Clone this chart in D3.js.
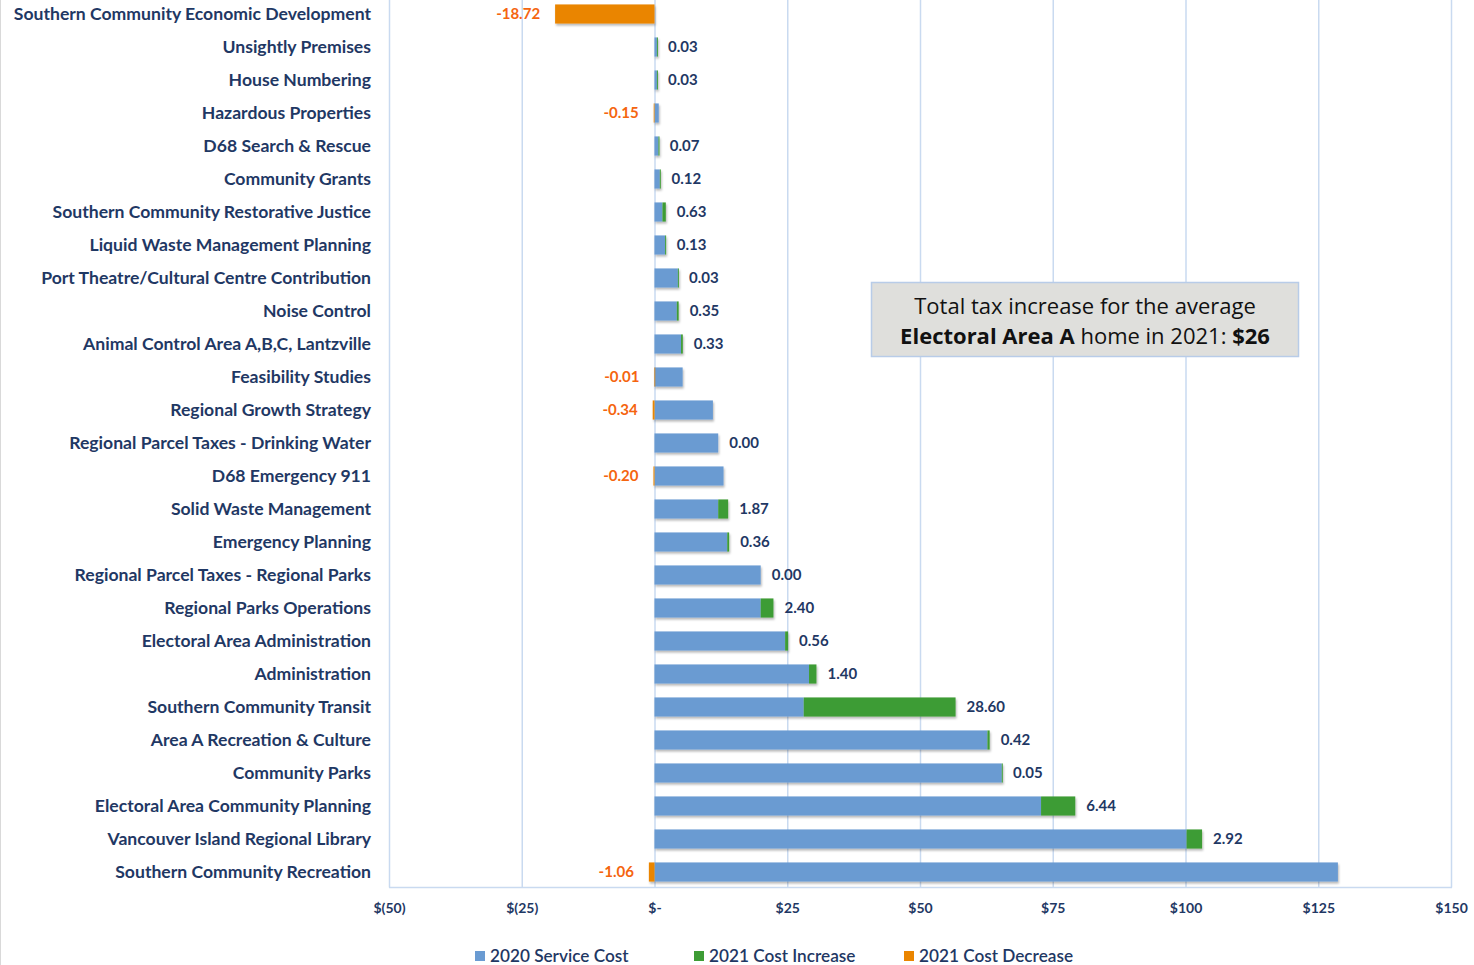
<!DOCTYPE html>
<html><head><meta charset="utf-8">
<script src="https://cdn.jsdelivr.net/npm/d3@7"></script>
<style>
html,body{margin:0;padding:0;background:#fff;}
svg{display:block;font-family:"Lato","Open Sans",sans-serif;}
</style></head>
<body><svg id="chart" width="1474" height="965"></svg>
<script>
const categories = [
 "Southern Community Economic Development","Unsightly Premises","House Numbering","Hazardous Properties",
 "D68 Search & Rescue","Community Grants","Southern Community Restorative Justice","Liquid Waste Management Planning",
 "Port Theatre/Cultural Centre Contribution","Noise Control","Animal Control Area A,B,C, Lantzville","Feasibility Studies",
 "Regional Growth Strategy","Regional Parcel Taxes - Drinking Water","D68 Emergency 911","Solid Waste Management",
 "Emergency Planning","Regional Parcel Taxes - Regional Parks","Regional Parks Operations","Electoral Area Administration",
 "Administration","Southern Community Transit","Area A Recreation & Culture","Community Parks",
 "Electoral Area Community Planning","Vancouver Island Regional Library","Southern Community Recreation"
];
const serviceCost2020 = [0,0.45,0.45,0.8,0.75,1.0,1.5,2.0,4.4,4.2,5.0,5.3,11.0,12.0,13.0,12.0,13.7,20.0,20.0,24.6,29.1,28.1,62.7,65.4,72.8,100.2,128.7];
const costIncrease2021 = [null,0.03,0.03,null,0.07,0.12,0.63,0.13,0.03,0.35,0.33,null,null,0.00,null,1.87,0.36,0.00,2.40,0.56,1.40,28.60,0.42,0.05,6.44,2.92,null];
const costDecrease2021 = [-18.72,null,null,-0.15,null,null,null,null,null,null,null,-0.01,-0.34,null,-0.20,null,null,null,null,null,null,null,null,null,null,null,-1.06];
const tickValues = [-50,-25,0,25,50,75,100,125,150];
const tickLabels = ["$(50)","$(25)","$-","$25","$50","$75","$100","$125","$150"];
const seriesNames = ["2020 Service Cost","2021 Cost Increase","2021 Cost Decrease"];
const colors = {blue:"#6A9BD2", green:"#3E9C35", orange:"#EA8500", navy:"#1F3864", labOrange:"#F5650F", grid:"#C9DAF0"};

const svg = d3.select("#chart");
const defs = svg.append("defs");
const f = defs.append("filter").attr("id","sh").attr("x","-5%").attr("y","-20%").attr("width","115%").attr("height","160%");
f.append("feDropShadow").attr("dx",1).attr("dy",2).attr("stdDeviation",1.2).attr("flood-color","#000").attr("flood-opacity",0.28);

// left border
svg.append("line").attr("x1",0.5).attr("x2",0.5).attr("y1",0).attr("y2",965).attr("stroke","#D9D9D9");

const x = d3.scaleLinear().domain([-50,150]).range([389,1451]);
const y = d3.scaleBand().domain(categories).range([-2.5,888.5]).paddingInner(0.42).paddingOuter(0.21);

// gridlines
svg.append("g").selectAll("line").data(tickValues).join("line")
  .attr("x1",d=>x(d)+0.5).attr("x2",d=>x(d)+0.5).attr("y1",0).attr("y2",887.5)
  .attr("stroke",colors.grid).attr("stroke-width",1.5);
svg.append("line").attr("x1",x(-50)).attr("x2",x(150)+1).attr("y1",887.5).attr("y2",887.5)
  .attr("stroke",colors.grid).attr("stroke-width",1.5);

// x axis
const xAxis = d3.axisBottom(x).tickValues(tickValues).tickFormat((d,i)=>tickLabels[i]).tickSize(0).tickPadding(0);
const ax = svg.append("g").attr("transform","translate(0,913)").call(xAxis);
ax.select(".domain").remove();
ax.selectAll("text").attr("fill",colors.navy).attr("font-size",14).attr("font-weight",700).attr("dy",0)
  .attr("font-family","Lato, sans-serif");

// y axis labels
const yAxis = d3.axisLeft(y).tickSize(0).tickPadding(0);
const ay = svg.append("g").attr("transform","translate(371,0)").call(yAxis);
ay.select(".domain").remove();
ay.selectAll("text").attr("fill",colors.navy).attr("font-size",17.6).attr("font-weight",700)
  .attr("font-family","Lato, sans-serif").attr("dy","0.35em");

const rows = categories.map((c,i)=>({c, b:serviceCost2020[i], inc:costIncrease2021[i], dec:costDecrease2021[i]}));
const bars = svg.append("g").attr("filter","url(#sh)");
bars.selectAll("rect.b").data(rows.filter(r=>r.b>0)).join("rect")
  .attr("x",x(0)).attr("y",r=>y(r.c)).attr("height",y.bandwidth())
  .attr("width",r=>x(r.b)-x(0)).attr("fill",colors.blue);
bars.selectAll("rect.g").data(rows.filter(r=>r.inc!=null && r.inc>0)).join("rect")
  .attr("x",r=>x(r.b)).attr("y",r=>y(r.c)).attr("height",y.bandwidth())
  .attr("width",r=>Math.max(1,x(r.b+r.inc)-x(r.b))).attr("fill",colors.green);
bars.selectAll("rect.o").data(rows.filter(r=>r.dec!=null)).join("rect")
  .attr("x",r=>x(r.dec)).attr("y",r=>y(r.c)).attr("height",y.bandwidth())
  .attr("width",r=>Math.max(0.8,x(0)-x(r.dec))).attr("fill",colors.orange);

// labels
const lab = svg.append("g").attr("font-size",15).attr("font-weight",700).attr("font-family","Lato, sans-serif");
lab.selectAll("text.inc").data(rows.filter(r=>r.inc!=null)).join("text")
  .attr("x",r=>x(r.b+r.inc)+11).attr("y",r=>y(r.c)+y.bandwidth()/2).attr("dy","0.35em")
  .attr("fill",colors.navy).text(r=>r.inc.toFixed(2));
lab.selectAll("text.dec").data(rows.filter(r=>r.dec!=null)).join("text")
  .attr("x",r=>x(r.dec)-15).attr("y",r=>y(r.c)+y.bandwidth()/2).attr("dy","0.35em")
  .attr("text-anchor","end").attr("fill",colors.labOrange).text(r=>r.dec.toFixed(2));

// annotation box
const bx = svg.append("g");
bx.append("rect").attr("x",871.5).attr("y",282.5).attr("width",427).attr("height",74)
  .attr("fill","#DFDFDC").attr("stroke","#B8CCE8").attr("stroke-width",1.5);
bx.append("text").attr("x",1085).attr("y",314).attr("text-anchor","middle").attr("font-size",22)
  .attr("font-family","'Open Sans', sans-serif").attr("fill","#111").text("Total tax increase for the average");
const t2 = bx.append("text").attr("x",1085).attr("y",344).attr("text-anchor","middle").attr("font-size",22)
  .attr("font-family","'Open Sans', sans-serif").attr("fill","#111");
t2.append("tspan").attr("font-weight",700).text("Electoral Area A");
t2.append("tspan").text(" home in 2021: ");
t2.append("tspan").attr("font-weight",700).text("$26");

// legend
const legendX = [475,694,904];
const legColors = [colors.blue,colors.green,colors.orange];
const lg = svg.append("g");
seriesNames.forEach((n,i)=>{
  lg.append("rect").attr("x",legendX[i]).attr("y",951).attr("width",10).attr("height",10).attr("fill",legColors[i]);
  lg.append("text").attr("x",legendX[i]+15).attr("y",956).attr("dy","0.35em").attr("font-size",17.2)
    .attr("font-weight",600).attr("font-family","Lato, sans-serif").attr("fill",colors.navy).text(n);
});
</script></body></html>
